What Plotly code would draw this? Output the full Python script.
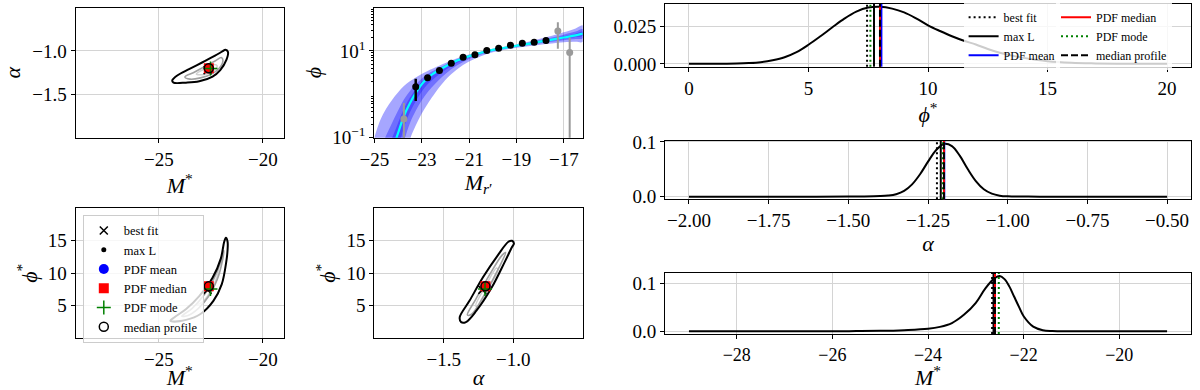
import numpy as np
import plotly.graph_objects as go

FONT = "Liberation Serif"

# ---------------- data ----------------
est_names = ["best fit", "max L", "PDF mean", "PDF median", "PDF mode", "median profile"]
est_phi = [7.45, 7.74, 8.05, 7.99, 7.59, 7.99]
est_alpha = [-1.222, -1.21, -1.199, -1.2, -1.203, -1.2]
est_M = [-22.66, -22.63, -22.6, -22.6, -22.52, -22.6]

# 1D PDFs
phi_grid = [0, 1, 2, 2.5, 3, 3.5, 4, 4.5, 5, 5.5, 6, 6.5, 7, 7.5, 8, 8.5, 9, 9.5, 10, 10.5,
            11, 11.5, 12, 12.5, 13, 13.5, 14, 14.5, 15, 16, 17, 18, 19, 20]
phi_pdf = [0, 0, 0.0002, 0.0005, 0.0011, 0.0024, 0.0044, 0.0078, 0.0128, 0.0185,
           0.0245, 0.0303, 0.0350, 0.0377, 0.0382, 0.0370, 0.0345, 0.0305, 0.0258, 0.0220,
           0.0185, 0.0155, 0.0130, 0.0100, 0.0075, 0.0055, 0.0040, 0.0027, 0.0017, 0.0007,
           0.0003, 0.0001, 0.0, 0.0]
alpha_grid = [-2.0, -1.6, -1.5, -1.45, -1.4, -1.375, -1.35, -1.325, -1.3, -1.275, -1.25, -1.225,
              -1.2, -1.175, -1.15, -1.125, -1.1, -1.075, -1.05, -1.025, -1.0, -0.95, -0.9, -0.5]
alpha_pdf = [0, 0, 0.0001, 0.0003, 0.001, 0.002, 0.0045, 0.0105, 0.0225, 0.041, 0.064, 0.085,
             0.0965, 0.0925, 0.0745, 0.050, 0.0285, 0.0135, 0.0055, 0.0018, 0.0005, 0.0001, 0, 0]
Mstar_grid = [-29, -26, -25.5, -25, -24.5, -24, -23.75, -23.5, -23.25, -23, -22.8, -22.6, -22.5,
              -22.4, -22.3, -22.2, -22.1, -22.0, -21.8, -21.6, -21.4, -21.0, -19]
Mstar_pdf = [0, 0.0001, 0.0003, 0.0008, 0.0022, 0.005, 0.009, 0.017, 0.034, 0.059, 0.089, 0.1105,
             0.1145, 0.108, 0.093, 0.072, 0.051, 0.031, 0.0095, 0.0022, 0.0005, 0.0001, 0]

# 2D contours (outer = black, mid = grey, inner = light grey)
c1_outer_M = [-24.36, -24.1, -23.55, -22.9, -22.3, -21.95, -21.8, -21.68, -21.75, -22.05, -22.42,
              -23.06, -23.7, -24.3, -24.36]
c1_outer_a = [-1.34, -1.28, -1.21, -1.13, -1.055, -1.005, -0.985, -1.01, -1.1, -1.22, -1.295,
              -1.35, -1.365, -1.365, -1.34]
c1_mid_M = [-23.75, -23.3, -22.8, -22.3, -22.0, -21.92, -22.1, -22.5, -23.0, -23.5, -23.75]
c1_mid_a = [-1.30, -1.245, -1.18, -1.115, -1.075, -1.11, -1.2, -1.27, -1.31, -1.325, -1.30]
c1_in_M = [-23.2, -22.75, -22.35, -22.2, -22.35, -22.8, -23.2]
c1_in_a = [-1.265, -1.2, -1.155, -1.17, -1.225, -1.27, -1.265]

c3_outer_M = [-24.45, -24.25, -23.69, -23.06, -22.42, -22.02, -21.86, -21.78, -21.7, -21.7, -21.76,
              -21.98, -22.38, -23.0, -23.69, -24.4, -24.45]
c3_outer_p = [2.7, 3.24, 4.5, 6.5, 9.3, 12.3, 14.85, 15.45, 14.9, 13.5, 11.8, 8.3, 5.76, 3.74,
              2.83, 2.6, 2.7]
c3_mid_M = [-23.9, -23.4, -22.8, -22.3, -22.0, -21.88, -21.93, -22.2, -22.6, -23.1, -23.6, -23.9]
c3_mid_p = [3.4, 4.6, 6.8, 9.6, 12.0, 13.5, 12.2, 9.0, 6.5, 4.6, 3.5, 3.4]
c3_in_M = [-23.2, -22.8, -22.4, -22.15, -22.2, -22.5, -22.9, -23.2]
c3_in_p = [5.2, 6.8, 8.8, 10.6, 9.5, 7.3, 5.6, 5.2]

c4_outer_a = [-1.375, -1.385, -1.315, -1.22, -1.11, -1.035, -1.009, -0.995, -1.01, -1.06, -1.155,
              -1.265, -1.34, -1.375]
c4_outer_p = [2.48, 3.24, 5.76, 9.3, 12.8, 14.85, 15.0, 14.6, 14.0, 11.8, 7.8, 4.24, 2.5, 2.48]
c4_mid_a = [-1.33, -1.27, -1.17, -1.08, -1.055, -1.1, -1.2, -1.3, -1.33]
c4_mid_p = [3.6, 6.0, 9.8, 12.8, 13.2, 11.0, 7.0, 3.7, 3.6]
c4_in_a = [-1.27, -1.2, -1.12, -1.11, -1.17, -1.25, -1.27]
c4_in_p = [5.0, 8.0, 10.8, 10.5, 8.0, 5.0, 5.0]

# luminosity function panel
lf_M = [-23.25, -22.75, -22.25, -21.75, -21.25, -20.75, -20.25, -19.75, -19.25, -18.75, -18.25, -17.75]
lf_phi = [1.5, 2.4, 3.56, 5.18, 7.13, 8.2, 10.2, 11.6, 13.6, 15.1, 15.9, 17.4]
lf_err = [0.8, 0.35, 0.25, 0.25, 0.3, 0.35, 0.45, 0.55, 0.7, 0.9, 1.3, 2.5]
lf_excl_M = [-23.75, -17.25, -16.75]
lf_excl_phi = [0.27, 28.7, 9.2]
lf_excl_err = [0.36, 17.5, 11.2]

band_M = [-25.0, -24.75, -24.5, -24.25, -24.0, -23.75, -23.5, -23.25, -23.0, -22.75, -22.5, -22.0,
          -21.5, -21.0, -20.5, -20.0, -19.5, -19.0, -18.5, -18.0, -17.5, -17.0, -16.5, -16.2]
# log10(phi) values
median_log = [-3.0, -2.1, -1.7, -1.3, -0.9, -0.5, -0.21, 0.03, 0.23, 0.38, 0.48, 0.64,
              0.78, 0.88, 0.96, 1.025, 1.075, 1.12, 1.165, 1.215, 1.26, 1.31, 1.36, 1.40]
outer_hi_log = [-1.0, -0.6, -0.33, -0.13, 0.04, 0.19, 0.3, 0.39, 0.47, 0.54, 0.6, 0.72,
                0.83, 0.92, 0.99, 1.05, 1.1, 1.15, 1.21, 1.28, 1.35, 1.43, 1.52, 1.59]
outer_lo_log = [-3, -3, -3, -3, -2.5, -1.6, -1.05, -0.72, -0.45, -0.22, -0.02, 0.33,
                0.58, 0.76, 0.88, 0.97, 1.03, 1.075, 1.11, 1.145, 1.175, 1.2, 1.21, 1.21]
mid_hi_log = [-1.6, -1.275, -0.95, -0.66, -0.38, -0.12, 0.07, 0.23, 0.36, 0.47, 0.546, 0.684,
              0.808, 0.902, 0.977, 1.039, 1.089, 1.137, 1.19, 1.251, 1.31, 1.376, 1.448, 1.505]
mid_lo_log = [-3, -3, -3, -2.6, -1.8, -1.1, -0.67, -0.38, -0.14, 0.05, 0.205, 0.47,
              0.67, 0.814, 0.916, 0.995, 1.05, 1.095, 1.135, 1.176, 1.213, 1.25, 1.277, 1.295]
inner_hi_log = [-2.2, -1.725, -1.36, -1.01, -0.665, -0.33, -0.08, 0.12, 0.29, 0.42, 0.51, 0.66,
                0.79, 0.89, 0.968, 1.031, 1.081, 1.128, 1.176, 1.231, 1.283, 1.34, 1.40, 1.447]
inner_lo_log = [-3, -3, -3, -1.8, -1.3, -0.77, -0.42, -0.16, 0.06, 0.23, 0.355, 0.562,
                0.73, 0.85, 0.94, 1.011, 1.064, 1.109, 1.151, 1.197, 1.239, 1.283, 1.323, 1.353]

# ---------------- styles ----------------
est_symbols = ["x-thin-open", "circle", "circle", "square", "cross-thin-open", "circle-open"]
est_colors = ["black", "black", "blue", "red", "#008000", "black"]
est_sizes = [8, 5, 10, 10, 10, 9]
line_dash = ["2px,3px", "solid", "solid", "solid", "2px,3px", "7px,3px"]
line_legend = ["legend", "legend", "legend", "legend2", "legend2", "legend2"]

fig = go.Figure()


def add_line(xa, ya, xs, ys, color, width, shape="spline"):
    fig.add_trace(go.Scatter(x=xs, y=ys, mode="lines", xaxis=xa, yaxis=ya, showlegend=False,
                             hoverinfo="skip",
                             line=dict(color=color, width=width, shape=shape, smoothing=1.0)))


# contour panels
for xa, ya, sets in [
    ("x", "y", [(c1_in_M, c1_in_a), (c1_mid_M, c1_mid_a), (c1_outer_M, c1_outer_a)]),
    ("x3", "y3", [(c3_in_M, c3_in_p), (c3_mid_M, c3_mid_p), (c3_outer_M, c3_outer_p)]),
    ("x4", "y4", [(c4_in_a, c4_in_p), (c4_mid_a, c4_mid_p), (c4_outer_a, c4_outer_p)]),
]:
    for (xs, ys), col, w in zip(sets, ["#d2d2d2", "#a0a0a0", "black"], [1.5, 1.6, 2]):
        add_line(xa, ya, xs, ys, col, w)

for xa, ya, xv, yv, show in [("x", "y", est_M, est_alpha, False),
                              ("x3", "y3", est_M, est_phi, True),
                              ("x4", "y4", est_alpha, est_phi, False)]:
    for i, name in enumerate(est_names):
        open_sym = est_symbols[i].endswith("open")
        fig.add_trace(go.Scatter(
            x=[xv[i]], y=[yv[i]], mode="markers", name=name, xaxis=xa, yaxis=ya,
            showlegend=show, legend="legend3", hoverinfo="skip",
            marker=dict(symbol=est_symbols[i], size=est_sizes[i], color=est_colors[i],
                        line=dict(color=est_colors[i], width=1.5 if open_sym else 0))))

# luminosity function panel: bands
Mb = list(band_M)
for hi, lo in [(outer_hi_log, outer_lo_log), (mid_hi_log, mid_lo_log), (inner_hi_log, inner_lo_log)]:
    ys = list(10 ** np.array(hi)) + list(10 ** np.array(lo))[::-1]
    fig.add_trace(go.Scatter(x=Mb + Mb[::-1], y=ys, mode="lines", fill="toself",
                             fillcolor="rgba(20,20,255,0.38)", line=dict(width=0, shape="spline"),
                             xaxis="x2", yaxis="y2", showlegend=False, hoverinfo="skip"))
add_line("x2", "y2", Mb, list(10 ** np.array(median_log)), "#00ffff", 2.2)
fig.add_trace(go.Scatter(x=lf_excl_M, y=lf_excl_phi, mode="markers", xaxis="x2", yaxis="y2",
                         showlegend=False, hoverinfo="skip",
                         marker=dict(color="#9a9a9a", size=7),
                         error_y=dict(type="data", array=lf_excl_err, color="#9a9a9a",
                                      thickness=2, width=0)))
fig.add_trace(go.Scatter(x=lf_M, y=lf_phi, mode="markers", xaxis="x2", yaxis="y2",
                         showlegend=False, hoverinfo="skip",
                         marker=dict(color="black", size=7),
                         error_y=dict(type="data", array=lf_err, color="black",
                                      thickness=2.5, width=0)))

# 1D pdf curves
add_line("x5", "y5", phi_grid, phi_pdf, "black", 2)
add_line("x6", "y6", alpha_grid, alpha_pdf, "black", 2)
add_line("x7", "y7", Mstar_grid, Mstar_pdf, "black", 2)

shapes = []
for xr, yr, vals, show in [("x5", "y5 domain", est_phi, True),
                           ("x6", "y6 domain", est_alpha, False),
                           ("x7", "y7 domain", est_M, False)]:
    for i, name in enumerate(est_names):
        shapes.append(dict(type="line", xref=xr, yref=yr, x0=vals[i], x1=vals[i], y0=0, y1=1,
                           line=dict(color=est_colors[i], width=2, dash=line_dash[i]),
                           name=name, showlegend=show, legend=line_legend[i], layer="above"))

# ---------------- layout ----------------
GRID = "#d4d4d4"


def axis(domain, anchor, title, standoff, **kw):
    d = dict(domain=domain, anchor=anchor, showline=True, mirror=True, linecolor="black",
             linewidth=1.2, ticks="outside", ticklen=4, tickwidth=1, tickcolor="black",
             showgrid=True, gridcolor=GRID, gridwidth=1, zeroline=False, automargin=False,
             tickfont=dict(size=19, family=FONT, color="black"),
             title=dict(text=title, standoff=standoff,
                        font=dict(size=22, family=FONT, color="black")))
    d.update(kw)
    return d


LX = [0.0631, 0.2364]
MX = [0.3119, 0.4856]
RX = [0.5542, 0.9925]
TOPY = [0.6469, 0.9805]
BOTY = [0.1326, 0.4659]

Mstar_t = "<i>M</i><sup>*</sup>"
phis_t = "<i>ϕ</i><sup>*</sup>"
alpha_t = "<i>α</i>"

minor_vals = [a * 10.0 ** k for k in (-1, 0, 1) for a in range(2, 10)]

fig.update_layout(
    width=1200, height=390, margin=dict(l=0, r=0, t=0, b=0, autoexpand=False),
    paper_bgcolor="white", plot_bgcolor="white",
    font=dict(family=FONT, color="black"),
    xaxis=axis(LX, "y", Mstar_t, 5, range=[-29, -19], tickvals=[-25, -20]),
    yaxis=axis(TOPY, "x", alpha_t, 8, range=[-2.0, -0.5], tickvals=[-1.5, -1.0],
               tickformat=".1f"),
    xaxis2=axis(MX, "y2", "<i>M</i><sub><i>r</i>′</sub>", 2, range=[-25, -16.2],
                tickvals=[-25, -23, -21, -19, -17]),
    yaxis2=axis(TOPY, "x2", "<i>ϕ</i>", 4, type="log", range=[-1, 2],
                tickvals=[0.1, 10], ticktext=["10<sup>−1</sup>", "10<sup>1</sup>"],
                minor=dict(tickvals=minor_vals, ticks="outside", ticklen=2, tickcolor="black",
                           showgrid=False)),
    xaxis3=axis(LX, "y3", Mstar_t, 5, range=[-29, -19], tickvals=[-25, -20]),
    yaxis3=axis(BOTY, "x3", phis_t, 4, range=[0, 20], tickvals=[5, 10, 15]),
    xaxis4=axis(MX, "y4", alpha_t, 5, range=[-2.0, -0.5], tickvals=[-1.5, -1.0],
                tickformat=".1f"),
    yaxis4=axis(BOTY, "x4", phis_t, 4, range=[0, 20], tickvals=[5, 10, 15]),
    xaxis5=axis(RX, "y5", phis_t, 0, range=[-1, 21], tickvals=[0, 5, 10, 15, 20]),
    yaxis5=axis([0.829, 0.9897], "x5", "", 0, range=[-0.0019, 0.0401],
                tickvals=[0, 0.025], tickformat=".3f"),
    xaxis6=axis(RX, "y6", alpha_t, 1, range=[-2.075, -0.425],
                tickvals=[-2.0, -1.75, -1.5, -1.25, -1.0, -0.75, -0.5], tickformat=".2f"),
    yaxis6=axis([0.489, 0.6385], "x6", "", 0, range=[-0.00485, 0.10185],
                tickvals=[0, 0.1], tickformat=".1f"),
    xaxis7=axis(RX, "y7", Mstar_t, 1, range=[-29.5, -18.5],
                tickvals=[-28, -26, -24, -22, -20], tickfont=dict(size=18, family=FONT, color="black")),
    yaxis7=axis([0.1436, 0.3000], "x7", "", 0, range=[-0.00575, 0.12075],
                tickvals=[0, 0.1], tickformat=".1f"),
    shapes=shapes,
    legend=dict(x=0.803, y=0.993, xanchor="left", yanchor="top",
                bgcolor="rgba(255,255,255,0.8)", borderwidth=0,
                font=dict(size=12, family=FONT, color="black"), tracegroupgap=0),
    legend2=dict(x=0.880, y=0.993, xanchor="left", yanchor="top",
                 bgcolor="rgba(255,255,255,0.8)", borderwidth=0,
                 font=dict(size=12, family=FONT, color="black"), tracegroupgap=0),
    legend3=dict(x=0.069, y=0.449, xanchor="left", yanchor="top",
                 bgcolor="rgba(255,255,255,0.8)", bordercolor="#cccccc", borderwidth=1,
                 font=dict(size=12.5, family=FONT, color="black"), tracegroupgap=0),
)

fig.write_html("out.html", config={"displayModeBar": False},
               post_script="document.body.style.margin='0';document.body.style.overflow='hidden';")
